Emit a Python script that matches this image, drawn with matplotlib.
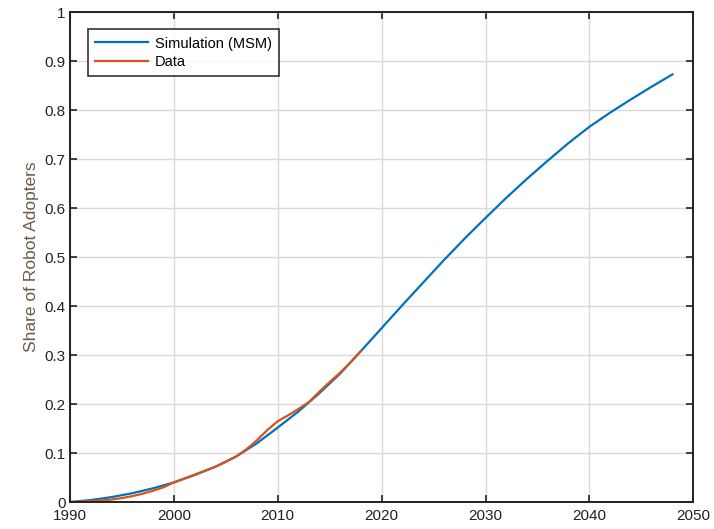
import numpy as np
import matplotlib
matplotlib.use('Agg')
import matplotlib.pyplot as plt

# simulated share of robot adopters (MSM), every 2 years
sim_years = [1990, 1992, 1994, 1996, 1998, 2000, 2002, 2004, 2006, 2008,
             2010, 2012, 2014, 2016, 2018, 2020, 2022, 2024, 2026, 2028,
             2030, 2032, 2034, 2036, 2038, 2040, 2042, 2044, 2046, 2048]
sim_share = [0.000, 0.004, 0.010, 0.018, 0.028, 0.040, 0.055, 0.072, 0.093, 0.120,
             0.152, 0.185, 0.222, 0.262, 0.308, 0.355, 0.402, 0.448, 0.494, 0.538,
             0.580, 0.621, 0.660, 0.697, 0.733, 0.766, 0.795, 0.822, 0.848, 0.873]

# observed data, yearly
data_years = list(range(1990, 2019))
data_share = [0.000, 0.001, 0.002, 0.003, 0.005, 0.008, 0.012, 0.017, 0.023, 0.030,
              0.040, 0.048, 0.056, 0.064, 0.072, 0.082, 0.093, 0.108, 0.126, 0.147,
              0.165, 0.177, 0.190, 0.204, 0.225, 0.245, 0.264, 0.285, 0.308]

xticks = [1990, 2000, 2010, 2020, 2030, 2040, 2050]
yticks = [0, 0.1, 0.2, 0.3, 0.4, 0.5, 0.6, 0.7, 0.8, 0.9, 1]
ytick_labels = ['0', '0.1', '0.2', '0.3', '0.4', '0.5', '0.6', '0.7', '0.8', '0.9', '1']

plt.rcParams['font.family'] = ['Liberation Sans', 'DejaVu Sans']

fig = plt.figure(figsize=(7.14, 5.29), dpi=100)
ax = fig.add_axes([0.098, 0.051, 0.873, 0.926])

ax.plot(sim_years, sim_share, color='#0072BD', lw=1.6, label='Simulation (MSM)')
ax.plot(data_years, data_share, color='#D95319', lw=1.6, label='Data')

ax.set_xlim(1990, 2050)
ax.set_ylim(0, 1)
ax.set_xticks(xticks)
ax.set_yticks(yticks)
ax.set_yticklabels(ytick_labels)
ax.grid(True, color='#d9d9d9', lw=1)
ax.set_axisbelow(True)

ax.tick_params(direction='in', top=True, right=True, length=5, width=1.2,
               labelsize=11, colors='#222222')
ax.tick_params(axis='x', pad=5)
ax.tick_params(axis='y', pad=3)
for s in ax.spines.values():
    s.set_linewidth(1.4)
    s.set_color('#222222')

ax.set_ylabel('Share of Robot Adopters', fontsize=12.5, color='#6b5a4a', labelpad=4)

leg = ax.legend(loc='upper left', bbox_to_anchor=(0.029, 0.965), borderaxespad=0,
                fontsize=10.5, frameon=True, fancybox=False, edgecolor='black',
                handlelength=3.6, handletextpad=0.5, borderpad=0.5, labelspacing=0.3)
leg.get_frame().set_linewidth(1.2)

fig.savefig('out.png', dpi=100)
